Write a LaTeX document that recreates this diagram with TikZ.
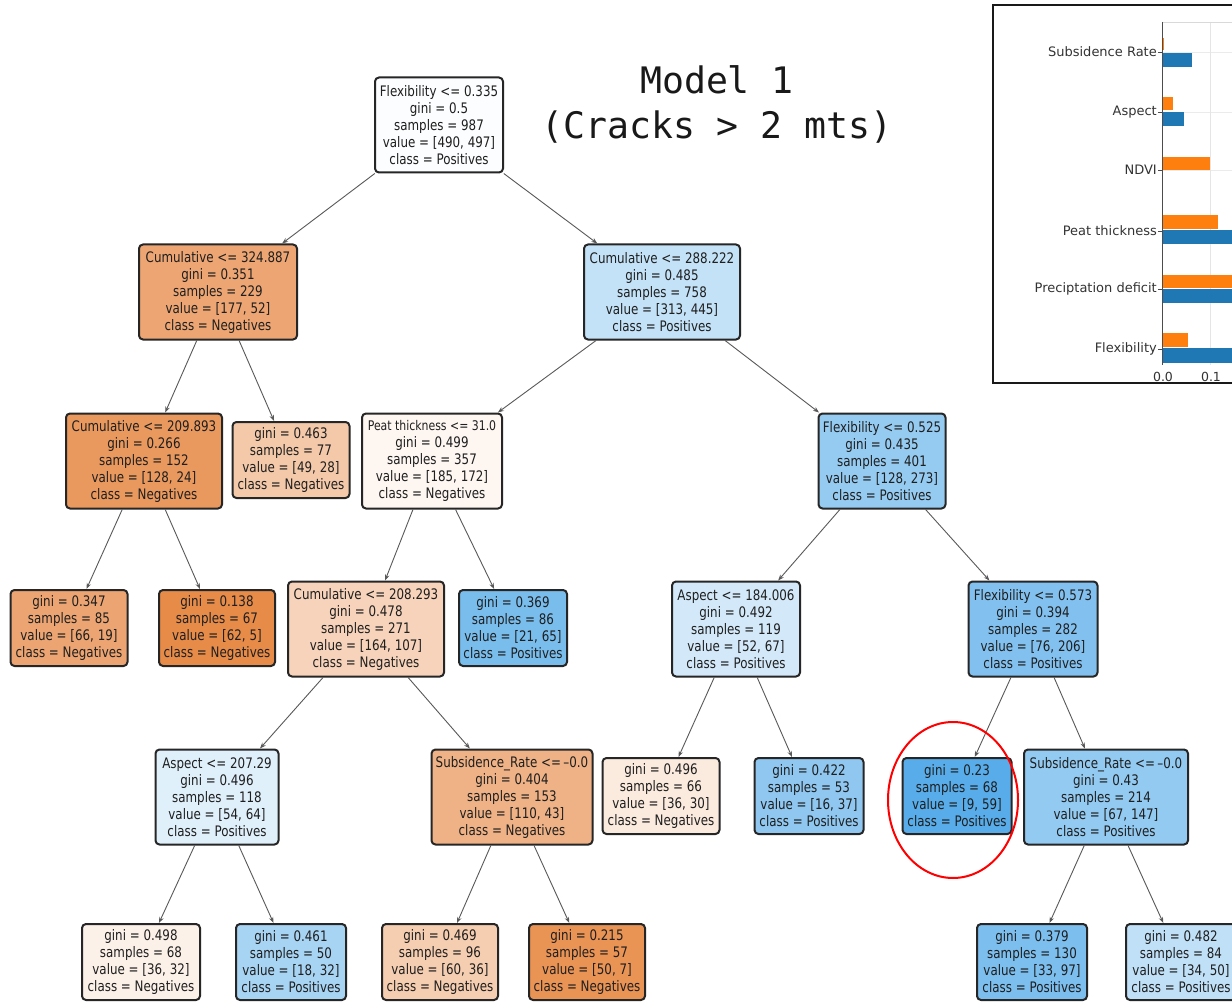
\documentclass[tikz,border=0pt]{standalone}
\usepackage{fontspec}
\setmainfont[FakeStretch=0.82]{DejaVu Sans}
\newfontfamily\insetfont{DejaVu Sans}
\newfontfamily\titlefont{DejaVu Sans Mono}
\usetikzlibrary{arrows.meta}
\definecolor{cRoot}{RGB}{252,253,255}
\definecolor{cCumL}{RGB}{237,166,115}
\definecolor{cCumR}{RGB}{196,226,247}
\definecolor{cCumA}{RGB}{234,153,94}
\definecolor{cLfA}{RGB}{244,201,170}
\definecolor{cPeat}{RGB}{253,246,241}
\definecolor{cFlxA}{RGB}{150,203,241}
\definecolor{cLfB}{RGB}{236,165,114}
\definecolor{cLfC}{RGB}{231,139,73}
\definecolor{cCumB}{RGB}{246,211,186}
\definecolor{cLfD}{RGB}{121,189,237}
\definecolor{cAspA}{RGB}{211,233,249}
\definecolor{cFlxB}{RGB}{130,193,239}
\definecolor{cAspB}{RGB}{224,240,251}
\definecolor{cSubA}{RGB}{239,178,134}
\definecolor{cLfE}{RGB}{251,234,222}
\definecolor{cLfF}{RGB}{143,199,240}
\definecolor{cLfG}{RGB}{87,172,233}
\definecolor{cSubB}{RGB}{147,202,241}
\definecolor{cLfH}{RGB}{252,241,233}
\definecolor{cLfI}{RGB}{168,212,244}
\definecolor{cLfJ}{RGB}{245,205,176}
\definecolor{cLfK}{RGB}{233,147,85}
\definecolor{cLfL}{RGB}{124,190,238}
\definecolor{cLfM}{RGB}{192,224,247}
\definecolor{mplblue}{HTML}{1F77B4}
\definecolor{mplorange}{HTML}{FF7F0E}
\tikzset{
  tn/.style={draw=black!85, line width=2pt, rounded corners=4pt, inner sep=1pt,
    align=center, text=black!88, font=\fontsize{14.5}{17}\selectfont},
  inner/.style={tn, minimum height=95pt},
  leaf/.style={tn, minimum height=76pt},
  edge/.style={draw=black!65, line width=0.9pt, -{Stealth[length=6pt,width=4.5pt]}},
  lbl/.style={anchor=east, inner sep=0pt, text=black!80, font=\insetfont\fontsize{13}{15}\selectfont},
  tick/.style={anchor=north, inner sep=0pt, text=black!80, font=\insetfont\fontsize{12.5}{14}\selectfont},
  ttl/.style={inner sep=0pt, text=black!90, font=\titlefont\fontsize{36.5}{42}\selectfont}
}
\begin{document}
\begin{tikzpicture}[x=1pt,y=-1pt]
\useasboundingbox[fill=white] (0,0) rectangle (1232,1003);

% title
\node[ttl] (t1) at (717,80) {Model 1};
\node[ttl] (t2) at (717,127) {(Cracks > 2 mts)};

% level 0
\node[inner, fill=cRoot, minimum width=128pt] (root) at (439,125)
  {Flexibility <= 0.335\\gini = 0.5\\samples = 987\\value = [490, 497]\\class = Positives};
% level 1
\node[inner, fill=cCumL, minimum width=158pt] (cumL) at (218,292)
  {Cumulative <= 324.887\\gini = 0.351\\samples = 229\\value = [177, 52]\\class = Negatives};
\node[inner, fill=cCumR, minimum width=156pt] (cumR) at (662,292)
  {Cumulative <= 288.222\\gini = 0.485\\samples = 758\\value = [313, 445]\\class = Positives};
% level 2
\node[inner, fill=cCumA, minimum width=156pt] (cumA) at (144,461)
  {Cumulative <= 209.893\\gini = 0.266\\samples = 152\\value = [128, 24]\\class = Negatives};
\node[leaf, fill=cLfA, minimum width=117pt] (lfA) at (291,460)
  {gini = 0.463\\samples = 77\\value = [49, 28]\\class = Negatives};
\node[inner, fill=cPeat, minimum width=140pt] (peat) at (432,461)
  {{\fontsize{13.3}{17}\selectfont Peat thickness <= 31.0}\\gini = 0.499\\samples = 357\\value = [185, 172]\\class = Negatives};
\node[inner, fill=cFlxA, minimum width=127pt] (flxA) at (882,461)
  {Flexibility <= 0.525\\gini = 0.435\\samples = 401\\value = [128, 273]\\class = Positives};
% level 3
\node[leaf, fill=cLfB, minimum width=117pt] (lfB) at (69,628)
  {gini = 0.347\\samples = 85\\value = [66, 19]\\class = Negatives};
\node[leaf, fill=cLfC, minimum width=116pt] (lfC) at (217,628)
  {gini = 0.138\\samples = 67\\value = [62, 5]\\class = Negatives};
\node[inner, fill=cCumB, minimum width=156pt] (cumB) at (366,629)
  {Cumulative <= 208.293\\gini = 0.478\\samples = 271\\value = [164, 107]\\class = Negatives};
\node[leaf, fill=cLfD, minimum width=108pt] (lfD) at (513,628)
  {gini = 0.369\\samples = 86\\value = [21, 65]\\class = Positives};
\node[inner, fill=cAspA, minimum width=128pt] (aspA) at (736,629)
  {Aspect <= 184.006\\gini = 0.492\\samples = 119\\value = [52, 67]\\class = Positives};
\node[inner, fill=cFlxB, minimum width=129pt] (flxB) at (1033,629)
  {Flexibility <= 0.573\\gini = 0.394\\samples = 282\\value = [76, 206]\\class = Positives};
% level 4
\node[inner, fill=cAspB, minimum width=123pt] (aspB) at (217,797)
  {Aspect <= 207.29\\gini = 0.496\\samples = 118\\value = [54, 64]\\class = Positives};
\node[inner, fill=cSubA, minimum width=161pt] (subA) at (512,797)
  {Subsidence\_Rate <=\,--0.0\\gini = 0.404\\samples = 153\\value = [110, 43]\\class = Negatives};
\node[leaf, fill=cLfE, minimum width=117pt] (lfE) at (661,796)
  {gini = 0.496\\samples = 66\\value = [36, 30]\\class = Negatives};
\node[leaf, fill=cLfF, minimum width=109pt] (lfF) at (809,796)
  {gini = 0.422\\samples = 53\\value = [16, 37]\\class = Positives};
\node[leaf, fill=cLfG, minimum width=109pt] (lfG) at (957,796)
  {gini = 0.23\\samples = 68\\value = [9, 59]\\class = Positives};
\node[inner, fill=cSubB, minimum width=164pt] (subB) at (1106,797)
  {Subsidence\_Rate <=\,--0.0\\gini = 0.43\\samples = 214\\value = [67, 147]\\class = Positives};
% level 5
\node[leaf, fill=cLfH, minimum width=118pt] (lfH) at (141,962)
  {gini = 0.498\\samples = 68\\value = [36, 32]\\class = Negatives};
\node[leaf, fill=cLfI, minimum width=110pt] (lfI) at (291,962)
  {gini = 0.461\\samples = 50\\value = [18, 32]\\class = Positives};
\node[leaf, fill=cLfJ, minimum width=116pt] (lfJ) at (440,962)
  {gini = 0.469\\samples = 96\\value = [60, 36]\\class = Negatives};
\node[leaf, fill=cLfK, minimum width=116pt] (lfK) at (587,962)
  {gini = 0.215\\samples = 57\\value = [50, 7]\\class = Negatives};
\node[leaf, fill=cLfL, minimum width=110pt] (lfL) at (1032,962)
  {gini = 0.379\\samples = 130\\value = [33, 97]\\class = Positives};
\node[leaf, fill=cLfM, minimum width=110pt] (lfM) at (1181,962)
  {gini = 0.482\\samples = 84\\value = [34, 50]\\class = Positives};

% edges
\draw[edge] (root) -- (cumL);
\draw[edge] (root) -- (cumR);
\draw[edge] (cumL) -- (cumA);
\draw[edge] (cumL) -- (lfA);
\draw[edge] (cumR) -- (peat);
\draw[edge] (cumR) -- (flxA);
\draw[edge] (cumA) -- (lfB);
\draw[edge] (cumA) -- (lfC);
\draw[edge] (peat) -- (cumB);
\draw[edge] (peat) -- (lfD);
\draw[edge] (flxA) -- (aspA);
\draw[edge] (flxA) -- (flxB);
\draw[edge] (cumB) -- (aspB);
\draw[edge] (cumB) -- (subA);
\draw[edge] (aspA) -- (lfE);
\draw[edge] (aspA) -- (lfF);
\draw[edge] (flxB) -- (lfG);
\draw[edge] (flxB) -- (subB);
\draw[edge] (aspB) -- (lfH);
\draw[edge] (aspB) -- (lfI);
\draw[edge] (subA) -- (lfJ);
\draw[edge] (subA) -- (lfK);
\draw[edge] (subB) -- (lfL);
\draw[edge] (subB) -- (lfM);

% red highlight
\draw[red, line width=2pt] (953,800) ellipse [x radius=65, y radius=78];

% inset chart
\begin{scope}
\clip (0,0) rectangle (1232,1003);
\draw[black!90, line width=1.6pt, fill=white] (993,5) rectangle (1245,383);
% grid
\foreach \yy in {52,112,170,231,289,349}
  \draw[black!8, line width=0.8pt] (1162,\yy) -- (1240,\yy);
\draw[black!10, line width=0.8pt] (1210,22) -- (1210,365);
\draw[black!15, line width=0.8pt] (1162,22) -- (1240,22);
% bars
\fill[mplorange] (1162,38) rectangle (1164,50);
\fill[mplblue]   (1162,53) rectangle (1192,67);
\fill[mplorange] (1162,97) rectangle (1173,110);
\fill[mplblue]   (1162,112) rectangle (1184,126);
\fill[mplorange] (1162,157) rectangle (1210,170);
\fill[mplorange] (1162,215) rectangle (1218,229);
\fill[mplblue]   (1162,230) rectangle (1240,244);
\fill[mplorange] (1162,275) rectangle (1240,288);
\fill[mplblue]   (1162,289) rectangle (1240,303);
\fill[mplorange] (1162,333) rectangle (1188,347);
\fill[mplblue]   (1162,348) rectangle (1240,363);
% axis spine and ticks
\draw[black!70, line width=0.9pt] (1162,22) -- (1162,365);
\foreach \yy in {52,112,170,231,289,349}
  \draw[black!70, line width=0.9pt] (1158,\yy) -- (1162,\yy);
\end{scope}
\node[lbl] (ySub) at (1157,52) {Subsidence Rate};
\node[lbl] (yAsp) at (1157,112) {Aspect};
\node[lbl] (yNdv) at (1157,170) {NDVI};
\node[lbl] (yPea) at (1157,231) {Peat thickness};
\node[lbl] (yPre) at (1157,289) {Preciptation deficit};
\node[lbl] (yFlx) at (1157,349) {Flexibility};
\node[tick] (x0) at (1163,372) {0.0};
\node[tick] (x1) at (1211,372) {0.1};
\end{tikzpicture}
\end{document}
